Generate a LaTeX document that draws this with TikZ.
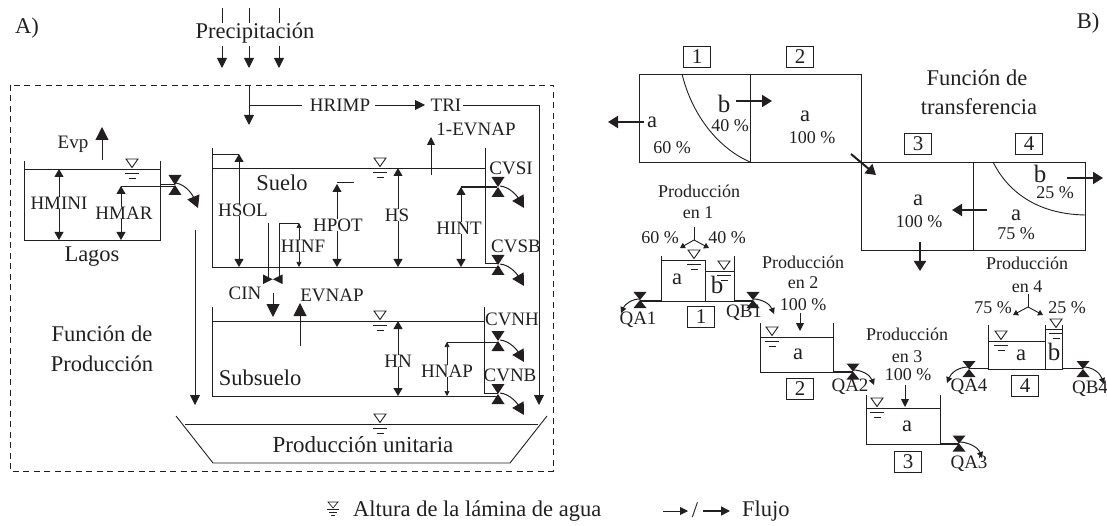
\documentclass[tikz,border=0pt]{standalone}
\usepackage{fontspec}
\setmainfont{Liberation Serif}
\usetikzlibrary{arrows.meta}
\definecolor{ink}{HTML}{231F20}
\newcommand\fs[1]{\fontsize{#1}{#1}\selectfont}
\tikzset{
  ln/.style={draw=ink,line width=0.9pt},
  thk/.style={draw=ink,line width=2pt},
  ar/.style={draw=ink,line width=0.9pt,-{Triangle[length=10pt,width=10pt]}},
  arr/.style={draw=ink,line width=0.9pt,{Triangle[length=8pt,width=9pt]}-{Triangle[length=8pt,width=9pt]}},
  arrs/.style={draw=ink,line width=0.7pt,{Triangle[length=5pt,width=5pt]}-{Triangle[length=5pt,width=5pt]}},
  big/.style={draw=ink,line width=1pt,-{Triangle[length=13pt,width=13pt]}},
  bold/.style={draw=ink,line width=2pt,-{Triangle[length=10pt,width=12pt]}},
  sm/.style={draw=ink,line width=0.9pt,-{Triangle[length=5pt,width=6pt]}},
  mid/.style={draw=ink,line width=0.9pt,-{Triangle[length=8pt,width=8pt]}},
  curvearrow/.style={draw=ink,line width=1pt,-{Triangle[length=12pt,width=13pt]}},
  curvesmall/.style={draw=ink,line width=1pt,-{Triangle[length=6pt,width=6pt]}},
  txt/.style={text=ink,inner sep=0pt,font=\fs{19}},
  lab/.style={txt,fill=white},
  big text/.style={text=ink,inner sep=0pt,font=\fs{22.5}},
  btxt/.style={text=ink,inner sep=0pt,font=\fs{18}},
  numbox/.style={draw=ink,line width=0.9pt,minimum width=27pt,minimum height=21pt,inner sep=0pt,text=ink,font=\fs{21}},
  dashbox/.style={draw=ink,line width=0.9pt,dash pattern=on 6pt off 4.5pt},
}
% water level: triangle above the line, two dashes below
\newcommand\WL[2]{%
  \draw[ink,line width=0.9pt,fill=white] (#1-6,#2-10)--(#1+6,#2-10)--(#1,#2-1.5)--cycle;
  \draw[ink,line width=0.9pt] (#1-7,#2+4.5)--(#1+7,#2+4.5) (#1-3.5,#2+9)--(#1+3.5,#2+9);}
% vertical valve (bow tie, apex to apex)
\newcommand\VV[2]{\fill[ink] (#1-6.5,#2-10)--(#1+6.5,#2-10)--(#1-6.5,#2+10)--(#1+6.5,#2+10)--cycle;}
\newcommand\Vs[2]{\fill[ink] (#1-6.5,#2-8)--(#1+6.5,#2-8)--(#1-6.5,#2+8)--(#1+6.5,#2+8)--cycle;}
\begin{document}
\begin{tikzpicture}[x=1pt,y=-1pt]
\useasboundingbox (0,0) rectangle (1107,526);
% ---------- A ----------
\node[big text] (lA) at (27,28) {A)};
\node[big text] (lB) at (1088,23) {B)};
\foreach \x in {222,249,279}{
  \draw[ln] (\x,8)--(\x,23);
  \draw[ar] (\x,46)--(\x,68);
}
\node[big text] (prec) at (255,33) {Precipitación};
\draw[dashbox] (10,85) rectangle (553,471);
% runoff
\draw[ar] (249,85)--(249,125);
\draw[ln] (249,105)--(302,105);
\node[txt] (hrimp) at (340,105) {HRIMP};
\draw[ar] (375,105)--(425,105);
\node[txt] (tri) at (446,105) {TRI};
\draw[ar] (463,105)--(539,105)--(539,405);
\draw[ar] (195,230)--(195,405);
% Lagos
\draw[ln] (24,161)--(24,240)--(160,240)--(160,161);
\draw[ln] (24,169)--(160,169);
\WL{132}{169}
\draw[big] (102,160)--(102,127);
\node[txt] (evp) at (73,144) {Evp};
\draw[arr] (59,169)--(59,240);
\node[lab] (hmini) at (59,203) {HMINI};
\draw[arr] (121,186)--(121,240);
\draw[ln] (121,186)--(175,186);
\node[lab] (hmar) at (124,213) {HMAR};
\draw[ln] (160,184)--(175,184);
\VV{175}{185}
\draw[curvearrow] (176,183) .. controls (187,185) and (193,196) .. (198,208);
\node[big text] (lagos) at (92,257) {Lagos};
\node[big text] (fp1) at (102,334) {Función de};
\node[big text] (fp2) at (102,364) {Producción};
% Suelo
\draw[ln] (212,148)--(212,267)--(500,267);
\draw[ln] (212,168)--(485,168);
\draw[ln] (485,148)--(485,263)--(498,263);
\draw[ln] (212,154)--(239,154);
\WL{380}{168}
\draw[arr] (239,154)--(239,267);
\node[lab] (hsol) at (243,210) {HSOL};
\draw[ln] (268,223)--(268,279);
\draw[ln] (299,223)--(279,223)--(279,279);
\draw[arrs] (299,223)--(299,267);
\node[lab] (hinf) at (303,246) {HINF};
\fill[ink] (263,274.5)--(263,284)--(282.5,274.5)--(282.5,284)--cycle;
\draw[arr] (337,184)--(337,267);
\draw[ln] (337,182)--(354,182);
\node[lab] (hpot) at (338,225) {HPOT};
\draw[arr] (398,168)--(398,267);
\node[lab] (hs) at (397,215) {HS};
\draw[mid] (431,175)--(431,137);
\node[txt] (evnap1) at (476,129) {1-EVNAP};
\draw[arr] (461,187)--(461,267);
\draw[ln,line width=1.2pt] (461,187)--(497,187);
\node[lab] (hint) at (459,228) {HINT};
\VV{498}{187}
\draw[curvearrow] (500,186) .. controls (510,187) and (517,196) .. (524,208);
\VV{498}{265}
\draw[curvearrow] (500,264) .. controls (510,265) and (517,274) .. (524,286);
\node[txt] (cvsi) at (511,168) {CVSI};
\node[txt] (cvsb) at (516,246) {CVSB};
\node[big text] (suelo) at (282,183) {Suelo};
% Subsuelo
\node[txt] (cin) at (245,293) {CIN};
\draw[big] (273,293)--(273,317);
\draw[big] (300,346)--(300,303);
\node[txt] (evnap) at (332,295) {EVNAP};
\draw[ln] (212,307)--(212,396)--(498,396);
\draw[ln] (212,321)--(484,321);
\draw[ln] (484,307)--(484,393)--(498,393);
\WL{380}{321}
\draw[arr] (398,321)--(398,396);
\node[lab] (hn) at (398,361) {HN};
\draw[arrs] (447,342)--(447,396);
\draw[ln] (447,342)--(497,342);
\node[lab] (hnap) at (447,371) {HNAP};
\VV{498}{341}
\draw[curvearrow] (500,340) .. controls (510,341) and (517,350) .. (524,362);
\VV{498}{394}
\draw[curvearrow] (500,393) .. controls (510,394) and (517,403) .. (524,415);
\node[txt] (cvnh) at (512,319) {CVNH};
\node[txt] (cvnb) at (510,375) {CVNB};
\node[big text] (subs) at (260,378) {Subsuelo};
% Produccion unitaria
\draw[ln] (176,416)--(213,463)--(510,463)--(547,416);
\draw[ln] (185,424)--(538,424);
\WL{380}{424}
\node[big text,font=\fs{23}] (pu) at (363,445) {Producción unitaria};
% legend
\draw[ink,line width=0.7pt] (328,502)--(338,502)--(333,508)--cycle;
\draw[ink,line width=0.7pt] (327,509)--(339,509) (329,512)--(337,512) (331,515)--(335,515);
\node[big text,anchor=base west] (leg1) at (353,516) {Altura de la lámina de agua};
\draw[mid] (663,511)--(688,511);
\node[big text] (slash) at (695,510) {/};
\draw[draw=ink,line width=1.6pt,-{Triangle[length=9pt,width=9pt]}] (703,511)--(730,511);
\node[big text,anchor=base west] (leg2) at (742,516) {Flujo};
% ---------- B : transfer ----------
\draw[ln] (639,74) rectangle (750,162);
\draw[ln] (750,74) rectangle (861,162);
\draw[ln] (861,162) rectangle (973,250);
\draw[ln] (973,162) rectangle (1085,250);
\draw[ln] (682,74) .. controls (692,115) and (718,148) .. (750,162);
\draw[ln] (993,162) .. controls (1007,190) and (1035,214) .. (1085,215);
\node[numbox] (n1) at (697,57) {1};
\node[numbox] (n2) at (800,57) {2};
\node[numbox] (n3) at (918,144) {3};
\node[numbox] (n4) at (1029,144) {4};
\node[big text] (t1a) at (652,122) {a};
\draw[bold] (644,122)--(608,122);
\node[big text,font=\fs{25}] (t1b) at (724,104) {b};
\draw[bold] (736,101)--(772,101);
\node[btxt] (p40) at (730,126) {40 \%};
\node[btxt] (p60) at (672,148) {60 \%};
\node[big text] (t2a) at (805,116) {a};
\node[btxt] (p100a) at (812,138) {100 \%};
\draw[bold] (851,154)--(876,175);
\node[big text] (ft1) at (977,78) {Función de};
\node[big text] (ft2) at (979,107) {transferencia};
\node[big text] (t3a) at (918,200) {a};
\node[btxt] (p100b) at (919,222) {100 \%};
\draw[bold] (987,210)--(952,210);
\node[big text] (t4a) at (1016,215) {a};
\node[btxt] (p75a) at (1016,234) {75 \%};
\node[big text,font=\fs{25}] (t4b) at (1040,174) {b};
\node[btxt] (p25a) at (1055,193) {25 \%};
\draw[bold] (1067,178)--(1103,178);
\draw[bold] (920,242)--(920,271);
% Tank 1
\node[btxt] (pr1) at (699,191) {Producción};
\node[btxt] (pr1b) at (698,213) {en 1};
\node[btxt] (p60b) at (660,238) {60 \%};
\node[btxt] (p40b) at (727,238) {40 \%};
\draw[ln] (694,227)--(694,240);
\draw[sm] (694,240)--(680,248);
\draw[sm] (694,240)--(709,248);
\draw[ln] (661,256)--(661,301)--(734,301)--(734,256);
\draw[ln] (661,260)--(705,260)--(705,301);
\draw[ln] (705,271)--(734,271);
\WL{694}{260}
\WL{724}{271}
\draw[thk] (640,300.5)--(661,300.5);
\draw[thk] (734,300.5)--(753,300.5);
\Vs{640}{300}
\Vs{753}{300}
\draw[curvesmall] (640,299) .. controls (632,299) and (625,304) .. (621,313);
\draw[curvesmall] (753,299) .. controls (762,299) and (770,304) .. (774,314);
\node[big text] (ta1) at (677,279) {a};
\node[big text,font=\fs{25}] (tb1) at (717,285) {b};
\node[txt] (qa1) at (638,320) {QA1};
\node[numbox] (m1) at (701,317) {1};
\node[txt] (qb1) at (744,313) {QB1};
% Tank 2
\node[btxt] (pr2) at (803,262) {Producción};
\node[btxt] (pr2b) at (803,283) {en 2};
\node[btxt] (p100c) at (803,305) {100 \%};
\draw[mid] (800,313)--(800,331);
\draw[ln] (760,323)--(760,372)--(833,372)--(833,323);
\draw[ln] (760,337)--(833,337);
\WL{772}{337}
\draw[thk] (833,371.5)--(853,371.5);
\Vs{853}{371.5}
\draw[curvesmall] (853,370) .. controls (862,370) and (870,375) .. (874,385);
\node[big text] (ta2) at (798,354) {a};
\node[numbox] (m2) at (800,389) {2};
\node[txt] (qa2) at (850,387) {QA2};
% Tank 3
\node[btxt] (pr3) at (907,334) {Producción};
\node[btxt] (pr3b) at (907,357) {en 3};
\node[btxt] (p100d) at (908,375) {100 \%};
\draw[mid] (905,385)--(905,407);
\draw[ln] (866,395)--(866,444)--(940,444)--(940,395);
\draw[ln] (866,408)--(940,408);
\WL{877}{408}
\draw[ln,line width=1.4pt] (940,444)--(959,444);
\Vs{959}{443.5}
\draw[curvesmall] (959,442) .. controls (968,442) and (978,447) .. (982,458);
\node[big text] (ta3) at (907,426) {a};
\node[numbox] (m3) at (908,462) {3};
\node[txt] (qa3) at (969,464) {QA3};
% Tank 4
\node[btxt] (pr4) at (1027,263) {Producción};
\node[btxt] (pr4b) at (1027,287) {en 4};
\node[btxt] (p75b) at (993,308) {75 \%};
\node[btxt] (p25b) at (1067,308) {25 \%};
\draw[ln] (1028,294)--(1028,307);
\draw[sm] (1028,307)--(1013,315);
\draw[sm] (1028,307)--(1043,315);
\draw[ln] (988,325)--(988,369)--(1062,369)--(1062,325);
\draw[ln] (988,341)--(1045,341);
\draw[ln] (1045,325)--(1045,369);
\draw[ln] (1045,329)--(1062,329);
\WL{1001}{341}
\WL{1056}{329}
\draw[ln,line width=1.4pt] (969,368.5)--(988,368.5);
\draw[ln,line width=1.4pt] (1062,368.5)--(1083,368.5);
\Vs{969}{369}
\Vs{1083}{369}
\draw[curvesmall] (969,367) .. controls (958,367) and (951,373) .. (947,383);
\draw[curvesmall] (1083,367) .. controls (1093,367) and (1100,373) .. (1104,384);
\node[big text] (ta4) at (1021,355) {a};
\node[big text,font=\fs{25}] (tb4) at (1054,352) {b};
\node[txt] (qa4) at (969,387) {QA4};
\node[numbox] (m4) at (1025,386) {4};
\node[txt] (qb4) at (1090,389) {QB4};
\end{tikzpicture}
\end{document}
